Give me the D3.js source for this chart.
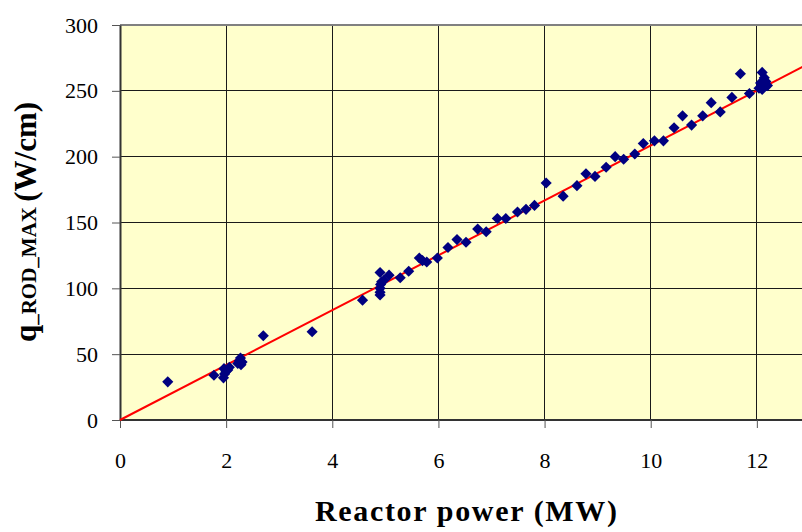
<!DOCTYPE html>
<html>
<head>
<meta charset="utf-8">
<script src="https://cdn.jsdelivr.net/npm/d3@7"></script>
<style>
  body { margin: 0; background: #fff; }
</style>
</head>
<body>
<svg id="chart"></svg>
<script>
const WIDTH = 802, HEIGHT = 532
const FONT = '"Liberation Serif", "Times New Roman", serif'

// reactor power (MW) and q_ROD_MAX (W/cm)
const power = [0.90, 1.77, 1.95, 1.97, 1.96, 2.00, 2.06, 2.03, 2.22, 2.25, 2.27, 2.28, 2.30,
  2.70, 3.62, 4.57, 4.90, 4.90, 4.90, 4.91, 4.93, 4.90, 4.97, 5.07, 5.28, 5.44, 5.64, 5.70,
  5.78, 5.98, 6.18, 6.35, 6.52, 6.74, 6.90, 7.11, 7.27, 7.49, 7.65, 7.81, 8.03, 8.35, 8.61,
  8.78, 8.95, 9.16, 9.33, 9.49, 9.70, 9.86, 10.07, 10.24, 10.44, 10.60, 10.77, 10.98, 11.14,
  11.31, 11.53, 11.69, 11.86, 12.04, 12.07, 12.10, 12.10, 12.14, 12.14, 12.17, 12.20]
const qRodMax = [29, 34, 32, 35, 39, 37, 40, 38, 43, 45, 47, 42, 44,
  64, 67, 91, 95, 97, 100, 103, 105, 112, 106, 110, 108, 113, 123, 121,
  120, 123, 131, 137, 135, 145, 143, 153, 153, 158, 160, 163, 180, 170, 178,
  187, 185, 192, 200, 198, 202, 210, 212, 212, 222, 231, 224, 231, 241,
  234, 245, 263, 248, 252, 256, 264, 251, 260, 255, 257, 254]
// linear fit through the origin (W/cm per MW)
const fitSlope = 20.85
const xTicks = [0, 2, 4, 6, 8, 10, 12]
const yTicks = [0, 50, 100, 150, 200, 250, 300]

const points = power.map((p, i) => ({ x: p, y: qRodMax[i] }))

const svg = d3.select('#chart').attr('width', WIDTH).attr('height', HEIGHT)

// the x axis runs on past the right edge of the picture
const x = d3.scaleLinear().domain([0, 14]).range([120, 863])
const y = d3.scaleLinear().domain([0, 300]).range([420, 25])

svg.append('rect')
    .attr('x', x(0)).attr('y', y(300))
    .attr('width', x(14) - x(0)).attr('height', y(0) - y(300))
    .attr('fill', '#ffffcc')

svg.append('g')
    .selectAll('line')
    .data(yTicks.filter(d => d > 0 && d < 300))
    .join('line')
    .attr('x1', x(0)).attr('x2', x(14))
    .attr('y1', d => y(d)).attr('y2', d => y(d))
    .attr('stroke', '#1a1a1a').attr('stroke-width', 1)
    .attr('shape-rendering', 'crispEdges')

svg.append('g')
    .selectAll('line')
    .data(xTicks.filter(d => d > 0))
    .join('line')
    .attr('x1', d => x(d)).attr('x2', d => x(d))
    .attr('y1', y(0)).attr('y2', y(300))
    .attr('stroke', '#1a1a1a').attr('stroke-width', 1)
    .attr('shape-rendering', 'crispEdges')

svg.append('line')
    .attr('x1', x(0)).attr('x2', x(14))
    .attr('y1', y(300)).attr('y2', y(300))
    .attr('stroke', '#808080').attr('stroke-width', 2)

const xAxis = svg.append('g')
    .attr('transform', `translate(0,${y(0)})`)
    .call(d3.axisBottom(x).tickValues(xTicks).tickSize(8).tickPadding(24).tickSizeOuter(0))
const yAxis = svg.append('g')
    .attr('transform', `translate(${x(0)},0)`)
    .call(d3.axisLeft(y).tickValues(yTicks).tickSize(8).tickPadding(14).tickSizeOuter(0))

xAxis.select('.domain').attr('d', `M${x(0)},0H${x(14)}`)
;[xAxis, yAxis].forEach(a => {
    a.attr('font-family', FONT)
    a.select('.domain').attr('stroke', '#333').attr('stroke-width', 2)
    a.selectAll('.tick line').attr('stroke', '#555')
    a.selectAll('.tick text').attr('font-size', 22).attr('fill', '#000')
})
xAxis.selectAll('.tick text').attr('dy', '0.71em')

// fit line
svg.append('line')
    .attr('x1', x(0)).attr('y1', y(0))
    .attr('x2', x(14)).attr('y2', y(14 * fitSlope))
    .attr('stroke', '#ff0000').attr('stroke-width', 2)

svg.append('g')
    .selectAll('path')
    .data(points)
    .join('path')
    .attr('d', d3.symbol(d3.symbolSquare, 62))
    .attr('transform', d => `translate(${x(d.x)},${y(d.y)}) rotate(45)`)
    .attr('fill', '#000080')

svg.append('text')
    .attr('x', 466).attr('y', 521)
    .attr('text-anchor', 'middle')
    .attr('font-family', FONT)
    .attr('textLength', 302)
    .style('font-size', '30px').style('font-weight', 'bold')
    .text('Reactor power (MW)')

const yt = svg.append('text')
    .attr('transform', 'translate(36,222) rotate(-90)')
    .attr('text-anchor', 'middle')
    .attr('font-family', FONT)
    .style('font-weight', 'bold')
yt.append('tspan').style('font-size', '31px').text('q')
yt.append('tspan').style('font-size', '21px').text('_ROD_MAX ')
yt.append('tspan').style('font-size', '31px').text(' (W/cm)')
</script>
</body>
</html>
